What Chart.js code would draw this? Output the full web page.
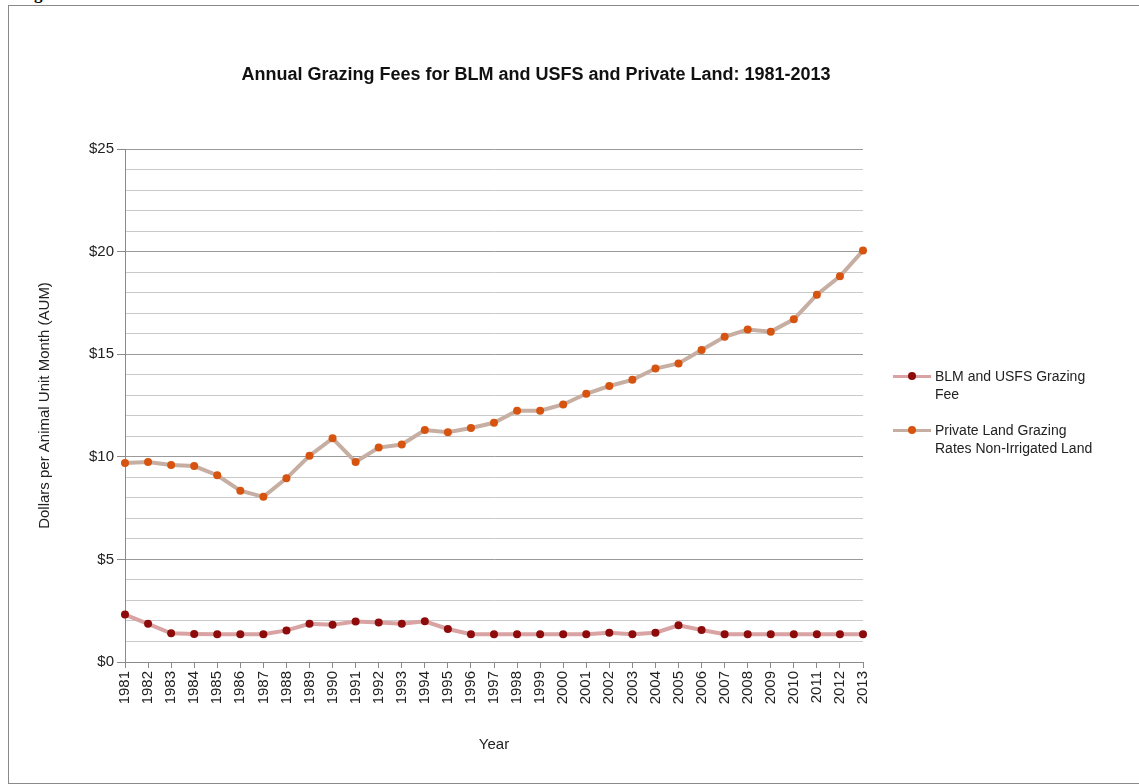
<!DOCTYPE html>
<html>
<head>
<meta charset="utf-8">
<script src="https://cdn.jsdelivr.net/npm/chart.js@4.4.1/dist/chart.umd.min.js"></script>
<style>
  body { margin: 0; background: #fff; font-family: "Liberation Sans", Arial, sans-serif; }
  #wrap { position: relative; width: 1139px; height: 784px; overflow: hidden; }
  #frame { position: absolute; left: 8px; top: 5px; width: 1140px; height: 777px; border: 1px solid #8a8a8a; border-right: none; }
  #fig { position: absolute; left: 19px; top: -16px; font: bold 17px "Liberation Serif", serif; color: #000; }
  #title { position: absolute; left: 0; width: 1072px; top: 64px; text-align: center; font: bold 18px "Liberation Sans", Arial, sans-serif; color: #111; }
  canvas { position: absolute; left: 0; top: 0; }
  .leg { position: absolute; left: 893px; font-size: 14px; color: #222; line-height: 18px; }
  .leg .ln { position: absolute; left: 0; top: 8px; width: 38px; height: 3px; }
  .leg .dt { position: absolute; left: 15px; top: 5px; width: 8px; height: 8px; border-radius: 50%; }
  .leg .tx { margin-left: 42px; white-space: nowrap; }
</style>
</head>
<body>
<div id="wrap">
  <div id="frame"></div>
  <div id="fig">Figure</div>
  <canvas id="chart" width="1139" height="784"></canvas>
  <div id="title">Annual Grazing Fees for BLM and USFS and Private Land: 1981-2013</div>
  <div class="leg" style="top:367px">
    <div class="ln" style="background:#d9a3a3"></div><div class="dt" style="background:#8e0b0b"></div>
    <div class="tx">BLM and USFS Grazing<br>Fee</div>
  </div>
  <div class="leg" style="top:421px">
    <div class="ln" style="background:#c7aea2"></div><div class="dt" style="background:#d6540f"></div>
    <div class="tx">Private Land Grazing<br>Rates Non-Irrigated Land</div>
  </div>
</div>
<script>
const years = ['1981','1982','1983','1984','1985','1986','1987','1988','1989','1990','1991',
  '1992','1993','1994','1995','1996','1997','1998','1999','2000','2001','2002','2003',
  '2004','2005','2006','2007','2008','2009','2010','2011','2012','2013'];
const blmFee = [2.31, 1.86, 1.40, 1.37, 1.35, 1.35, 1.35, 1.54, 1.86, 1.81, 1.97,
  1.92, 1.86, 1.98, 1.61, 1.35, 1.35, 1.35, 1.35, 1.35, 1.35, 1.43, 1.35,
  1.43, 1.79, 1.56, 1.35, 1.35, 1.35, 1.35, 1.35, 1.35, 1.35];
const privateRate = [9.70, 9.75, 9.60, 9.55, 9.10, 8.35, 8.05, 8.95, 10.05, 10.90, 9.75,
  10.45, 10.60, 11.30, 11.20, 11.40, 11.66, 12.25, 12.25, 12.55, 13.07, 13.45, 13.75,
  14.30, 14.55, 15.20, 15.85, 16.20, 16.10, 16.70, 17.90, 18.80, 20.05];
const yMax = 25;

const ctx = document.getElementById('chart').getContext('2d');
new Chart(ctx, {
  type: 'line',
  data: {
    labels: years,
    datasets: [{
      label: 'BLM and USFS Grazing Fee',
      data: blmFee,
      borderColor: '#d9a3a3',
      borderWidth: 4,
      pointBackgroundColor: '#8e0b0b',
      pointBorderWidth: 0,
      pointRadius: 4,
      clip: false,
      tension: 0
    }, {
      label: 'Private Land Grazing Rates Non-Irrigated Land',
      data: privateRate,
      borderColor: '#c7aea2',
      borderWidth: 4,
      pointBackgroundColor: '#d6540f',
      pointBorderWidth: 0,
      pointRadius: 4,
      clip: false,
      tension: 0
    }]
  },
  options: {
    responsive: false,
    animation: false,
    layout: { padding: { left: 32, top: 149, right: 276, bottom: 26 } },
    plugins: { legend: { display: false }, tooltip: { enabled: false } },
    scales: {
      x: {
        offset: false,
        grid: { drawOnChartArea: false, drawTicks: true, tickLength: 6, color: '#8a8a8a' },
        border: { color: '#8a8a8a' },
        ticks: { minRotation: 90, maxRotation: 90, autoSkip: false, color: '#222',
                 font: { family: 'Liberation Sans', size: 15 }, padding: 3 },
        title: { display: true, text: 'Year', color: '#222',
                 font: { family: 'Liberation Sans', size: 15 }, padding: 4 },
        afterFit: s => { s.height = 96; }
      },
      y: {
        min: 0, max: yMax,
        ticks: { stepSize: 1, autoSkip: false, color: '#222', font: { family: 'Liberation Sans', size: 15 },
                 callback: v => (v % 5 === 0 ? '$' + v : '') },
        grid: {
          color: c => (c.tick && c.tick.value % 5 === 0 ? '#9a9a9a' : '#c9c9c9'),
          tickColor: c => (c.tick && c.tick.value % 5 === 0 ? '#8a8a8a' : 'rgba(0,0,0,0)'),
          tickLength: 8
        },
        border: { color: '#8a8a8a' },
        title: { display: true, text: 'Dollars per Animal Unit Month (AUM)', color: '#222',
                 font: { family: 'Liberation Sans', size: 15 }, padding: 4 },
        afterFit: s => { s.width = 93; }
      }
    }
  }
});
</script>
</body>
</html>
